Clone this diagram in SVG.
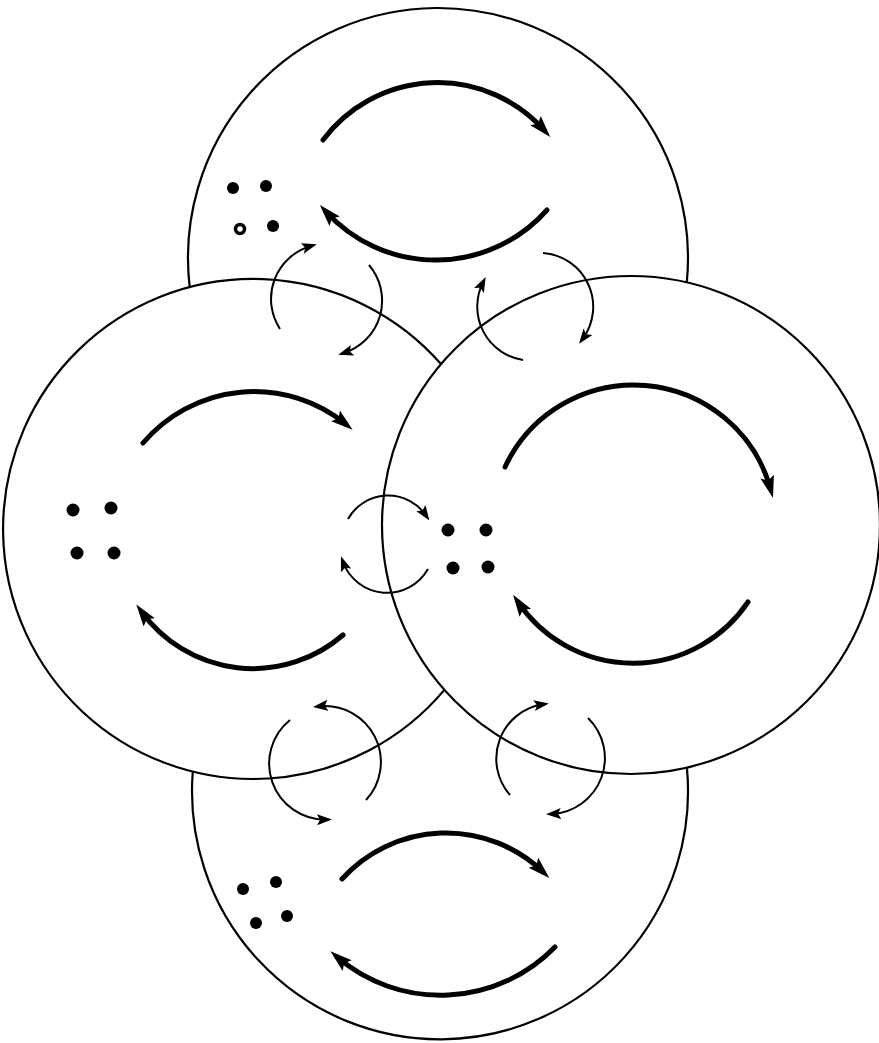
<svg xmlns="http://www.w3.org/2000/svg" width="879" height="1043" viewBox="0 0 879 1043">
<style>
.outline{fill:none;stroke:#000;stroke-width:2.2}
.flow{fill:none;stroke:#000;stroke-width:5;stroke-linecap:round;marker-end:url(#bigHead)}
.dot{fill:#000}
.link{fill:none;stroke:#000;stroke-width:2;marker-end:url(#smallHead)}
</style>
<defs>
<marker id="bigHead" markerUnits="userSpaceOnUse" viewBox="0 -8 22 16" markerWidth="22" markerHeight="16" refX="13" refY="0" orient="auto">
<path d="M0,-7 L22,0 L0,7 L4,0 z" fill="#000"/>
</marker>
<marker id="smallHead" markerUnits="userSpaceOnUse" viewBox="0 -6 15 12" markerWidth="15" markerHeight="12" refX="9" refY="0" orient="auto">
<path d="M0,-5.5 L15,0 L0,5.5 L3,0 z" fill="#000"/>
</marker>
</defs>
<rect width="879" height="1043" fill="#fff"/>

<g id="node-top">
<path class="outline" d="M189.7 287.2 A250 250 0 1 1 686.8 282.3"/>
<path class="flow" d="M323 140 A143 143 0 0 1 544.2 130.3"/>
<path class="flow" d="M547 210 A148.6 148.6 0 0 1 325.9 211.6"/>
<circle class="dot" cx="233" cy="188" r="6"/>
<circle class="dot" cx="266" cy="186" r="6"/>
<circle cx="240" cy="229" r="4.5" fill="none" stroke="#000" stroke-width="3.5"/>
<circle class="dot" cx="273" cy="226" r="6"/>
</g>

<g id="node-left">
<path class="outline" d="M441 364.1 A250 250 0 1 0 444.4 689.9"/>
<path class="flow" d="M143 443 A145.5 145.5 0 0 1 345.6 424"/>
<path class="flow" d="M343 635 A137.5 137.5 0 0 1 141.6 611.8"/>
<circle class="dot" cx="73" cy="510" r="6.5"/>
<circle class="dot" cx="111" cy="508" r="6.5"/>
<circle class="dot" cx="77" cy="553" r="6.5"/>
<circle class="dot" cx="114" cy="553" r="6.5"/>
</g>

<g id="node-right">
<circle class="outline" cx="631" cy="525" r="249"/>
<path class="flow" d="M505 467 A142 142 0 0 1 770.6 489.2"/>
<path class="flow" d="M748 602 A138.6 138.6 0 0 1 518.1 602.1"/>
<circle class="dot" cx="448" cy="530" r="6.5"/>
<circle class="dot" cx="486" cy="530" r="6.5"/>
<circle class="dot" cx="453" cy="568" r="6.5"/>
<circle class="dot" cx="488" cy="567" r="6.5"/>
</g>

<g id="node-bottom">
<path class="outline" d="M192.8 771.7 A248 248 0 1 0 686.9 767.7"/>
<path class="flow" d="M342 879 A140.3 140.3 0 0 1 542.8 871.7"/>
<path class="flow" d="M555 947 A159.4 159.4 0 0 1 337.3 957.2"/>
<circle class="dot" cx="243" cy="889" r="6"/>
<circle class="dot" cx="276" cy="882" r="6"/>
<circle class="dot" cx="256" cy="923" r="6"/>
<circle class="dot" cx="287" cy="916" r="6"/>
</g>

<g id="connectors">
<path class="link" d="M280 329 A55 55 0 0 1 311 246"/>
<path class="link" d="M369 265 A55 55 0 0 1 344 353"/>
<path class="link" d="M523 360 A54 54 0 0 1 483 282.4"/>
<path class="link" d="M543 253 A54 54 0 0 1 582.6 339"/>
<path class="link" d="M348 519 A46 46 0 0 1 426 515.5"/>
<path class="link" d="M428 569 A47 47 0 0 1 343 562"/>
<path class="link" d="M290 720 A56 56 0 0 0 326 819.6"/>
<path class="link" d="M366 800 A56 56 0 0 0 318.9 706.3"/>
<path class="link" d="M510 795 A55 55 0 0 1 543 704.3"/>
<path class="link" d="M588 718 A56 56 0 0 1 552 814"/>
</g>
</svg>
